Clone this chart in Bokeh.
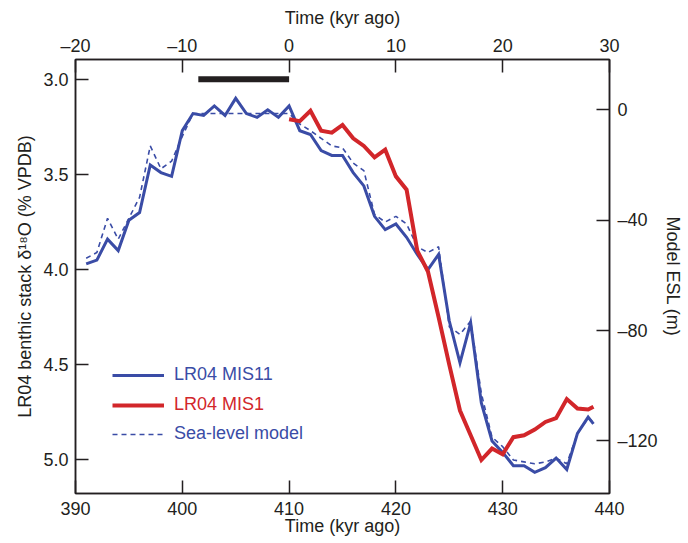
from bokeh.plotting import figure
from bokeh.models import Range1d, LinearAxis, Legend, LegendItem, FixedTicker
from bokeh.embed import file_html
from bokeh.resources import INLINE

# ---- data ----
kyr_mis11 = [391, 392, 393, 394, 395, 396, 397, 398, 399, 400, 401, 402, 403, 404,
             405, 406, 407, 408, 409, 410, 411, 412, 413, 414, 415, 416, 417, 418,
             419, 420, 421, 422, 423, 424, 425, 426, 427, 428, 429, 430, 431, 432,
             433, 434, 435, 436, 437, 438, 438.5]
d18o_mis11 = [3.97, 3.95, 3.84, 3.90, 3.74, 3.70, 3.45, 3.49, 3.51, 3.27, 3.18, 3.19,
              3.14, 3.19, 3.10, 3.18, 3.20, 3.16, 3.20, 3.14, 3.27, 3.29, 3.375, 3.40,
              3.40, 3.49, 3.56, 3.72, 3.79, 3.76, 3.83, 3.92, 4.00, 3.92, 4.27, 4.49,
              4.28, 4.70, 4.90, 4.96, 5.03, 5.03, 5.065, 5.04, 4.99, 5.05, 4.86, 4.775,
              4.81]

kyr_model = kyr_mis11
d18o_model = [3.94, 3.91, 3.73, 3.84, 3.73, 3.62, 3.35, 3.47, 3.43, 3.30, 3.18, 3.18,
              3.18, 3.18, 3.18, 3.18, 3.18, 3.18, 3.18, 3.18, 3.235, 3.27, 3.31, 3.35,
              3.36, 3.44, 3.48, 3.71, 3.75, 3.72, 3.76, 3.88, 3.91, 3.88, 4.30, 4.34,
              4.27, 4.65, 4.88, 4.93, 5.00, 5.01, 5.02, 5.01, 4.99, 5.02, 4.86, 4.78,
              4.80]

kyr_mis1 = [410, 411, 412, 413, 414, 415, 416, 417, 418, 419, 420, 421, 422, 423, 424,
            425, 426, 427, 428, 429, 430, 431, 432, 433, 434, 435, 436, 437, 438, 438.5]
d18o_mis1 = [3.21, 3.22, 3.165, 3.27, 3.28, 3.24, 3.31, 3.35, 3.41, 3.37, 3.51, 3.58,
             3.90, 4.01, 4.25, 4.50, 4.74, 4.87, 5.00, 4.94, 4.97, 4.88, 4.87, 4.84,
             4.80, 4.78, 4.68, 4.73, 4.735, 4.72]

bar_time = [-8.5, 0]     # top-axis time interval of the black bar
bar_level = 3.0

bottom_ticks = [390, 400, 410, 420, 430, 440]
top_ticks = [-20, -10, 0, 10, 20, 30]
left_ticks = [3.0, 3.5, 4.0, 4.5, 5.0]
right_ticks = [0, -40, -80, -120]

BLUE = "#3a4ca6"
RED = "#d2262a"
INK = "#231f20"
FONT = "Liberation Sans"
FS = "18px"

p = figure(width=688, height=543, output_backend="svg", toolbar_location=None,
           x_range=Range1d(390, 440), y_range=Range1d(5.176, 2.896),
           min_border_left=75, min_border_right=79, min_border_top=59,
           min_border_bottom=50, background_fill_color="white",
           border_fill_color="white")
p.extra_x_ranges = {"top": Range1d(-20, 30)}
p.extra_y_ranges = {"esl": Range1d(-139.1, 18.3)}
p.grid.visible = False
p.outline_line_color = INK
p.outline_line_width = 1.5

bottom_axis = p.below[0]
left_axis = p.left[0]
top_axis = LinearAxis(x_range_name="top")
right_axis = LinearAxis(y_range_name="esl")
p.add_layout(top_axis, "above")
p.add_layout(right_axis, "right")


def style(ax, ticks, overrides, label, standoff, label_standoff):
    ax.ticker = FixedTicker(ticks=ticks)
    ax.minor_tick_line_color = None
    ax.major_tick_in = 13
    ax.major_tick_out = 0
    ax.major_tick_line_color = INK
    ax.major_tick_line_width = 1.5
    ax.axis_line_color = INK
    ax.axis_line_width = 1.5
    ax.major_label_text_font = FONT
    ax.major_label_text_font_size = FS
    ax.major_label_text_color = INK
    ax.major_label_standoff = standoff
    ax.major_label_overrides = overrides
    ax.axis_label = label
    ax.axis_label_text_font = FONT
    ax.axis_label_text_font_size = FS
    ax.axis_label_text_font_style = "normal"
    ax.axis_label_text_color = INK
    ax.axis_label_standoff = label_standoff


style(bottom_axis, bottom_ticks, {t: str(t) for t in bottom_ticks},
      "Time (kyr ago)", 8, -2)
style(top_axis, top_ticks, {t: (str(t).replace("-", "\u2013")) for t in top_ticks},
      "Time (kyr ago)", 4, 5)
style(left_axis, left_ticks, {t: f"{t:.1f}" for t in left_ticks},
      "LR04 benthic stack \u03b4\u00b9\u2078O (% VPDB)", 7, 5)
style(right_axis, right_ticks, {t: (str(t).replace("-", "\u2013")) for t in right_ticks},
      "Model ESL (m)", 8, 2)

# black bar (time window)
p.segment(x0=bar_time[0], x1=bar_time[1], y0=bar_level, y1=bar_level,
          x_range_name="top", line_color=INK, line_width=6, line_cap="butt")

r11 = p.line(kyr_mis11, d18o_mis11, line_color=BLUE, line_width=3, line_join="miter")
rmod = p.line(kyr_model, d18o_model, line_color=BLUE, line_width=1.6, line_dash="5 4")
r1 = p.line(kyr_mis1, d18o_mis1, line_color=RED, line_width=4, line_join="miter")

for lab, rend, col, ypos in [("LR04 MIS11", r11, BLUE, 108),
                             ("LR04 MIS1", r1, RED, 78),
                             ("Sea-level model", rmod, BLUE, 49)]:
    leg = Legend(items=[LegendItem(label=lab, renderers=[rend])],
                 location=(37, ypos), padding=0, margin=0, spacing=0,
                 glyph_width=52, glyph_height=20, label_height=20,
                 label_standoff=10, border_line_color=None,
                 background_fill_alpha=0, label_text_color=col,
                 label_text_font=FONT, label_text_font_size=FS)
    p.add_layout(leg, "center")

open("out.html", "w").write(file_html(p, INLINE))
